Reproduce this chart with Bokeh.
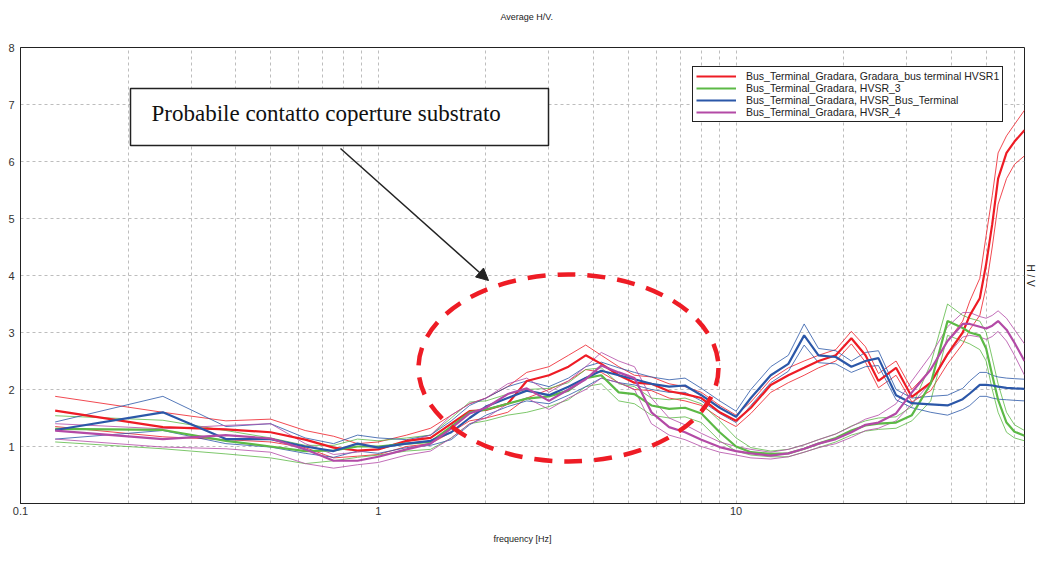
import math
from bokeh.plotting import figure
from bokeh.models import (FixedTicker, Legend, LegendItem, BoxAnnotation, Label,
                          Arrow, NormalHead, Title, LogAxis)
from bokeh.embed import file_html
from bokeh.resources import INLINE

# ---------------- data ----------------
freq = [0.125, 0.25, 0.375, 0.5, 0.625, 0.75, 0.875, 1.0, 1.2, 1.4,
        1.6, 1.8, 2.0, 2.3, 2.6, 3.0, 3.4, 3.8, 4.2, 4.7,
        5.2, 5.8, 6.5, 7.2, 8.0, 9.0, 10, 11, 12.5, 14,
        15.5, 17, 19, 21, 23, 25, 28, 31, 35, 39,
        43, 45, 48, 50, 52, 54, 57, 60, 64]

red_mean = [1.63, 1.34, 1.30, 1.25, 1.12, 0.98, 0.93, 0.95, 1.10, 1.15,
            1.40, 1.62, 1.64, 1.75, 2.15, 2.25, 2.40, 2.60, 2.45, 2.25,
            2.12, 2.10, 1.97, 1.92, 1.85, 1.60, 1.45, 1.68, 2.08, 2.25,
            2.38, 2.50, 2.60, 2.90, 2.60, 2.15, 2.38, 1.87, 2.12, 2.62,
            3.00, 3.30, 3.60, 4.20, 4.90, 5.70, 6.15, 6.35, 6.55]
red_hi = [1.88, 1.60, 1.45, 1.48, 1.28, 1.18, 1.05, 1.08, 1.20, 1.32,
          1.55, 1.75, 1.85, 2.05, 2.30, 2.40, 2.60, 2.78, 2.60, 2.40,
          2.25, 2.22, 2.10, 2.05, 1.95, 1.72, 1.55, 1.78, 2.18, 2.38,
          2.50, 2.60, 2.70, 3.02, 2.75, 2.28, 2.50, 2.00, 2.35, 2.85,
          3.20, 3.55, 3.95, 4.70, 5.40, 6.15, 6.45, 6.65, 6.90]
red_lo = [1.35, 1.17, 1.12, 1.08, 0.98, 0.80, 0.83, 0.86, 1.00, 1.05,
          1.25, 1.45, 1.50, 1.60, 1.85, 2.00, 2.15, 2.35, 2.30, 2.12,
          2.00, 1.98, 1.85, 1.80, 1.72, 1.50, 1.35, 1.58, 1.95, 2.12,
          2.25, 2.38, 2.50, 2.80, 2.48, 2.03, 2.25, 1.78, 1.98, 2.45,
          2.80, 3.05, 3.30, 3.80, 4.50, 5.25, 5.70, 5.95, 6.10]

green_mean = [1.31, 1.29, 1.10, 1.00, 0.92, 0.93, 1.00, 1.00, 1.05, 1.08,
              1.35, 1.60, 1.65, 1.75, 1.84, 1.88, 1.98, 2.20, 2.25, 1.95,
              1.92, 1.72, 1.66, 1.68, 1.58, 1.25, 1.00, 0.90, 0.87, 0.88,
              0.96, 1.05, 1.15, 1.28, 1.37, 1.40, 1.42, 1.55, 2.10, 3.20,
              3.08, 3.00, 2.95, 2.72, 2.25, 1.82, 1.42, 1.26, 1.19]
green_hi = [1.54, 1.46, 1.28, 1.15, 1.02, 1.02, 1.13, 1.10, 1.15, 1.20,
            1.50, 1.78, 1.80, 1.92, 2.00, 2.02, 2.12, 2.35, 2.38, 2.10,
            2.05, 1.85, 1.82, 1.85, 1.75, 1.45, 1.15, 0.98, 0.92, 0.95,
            1.03, 1.12, 1.22, 1.36, 1.45, 1.50, 1.52, 1.70, 2.45, 3.50,
            3.30, 3.25, 3.20, 3.00, 2.55, 2.10, 1.60, 1.38, 1.28]
green_lo = [1.08, 0.96, 0.87, 0.80, 0.70, 0.75, 0.81, 0.85, 0.92, 0.95,
            1.15, 1.40, 1.45, 1.55, 1.60, 1.70, 1.82, 2.05, 2.10, 1.80,
            1.75, 1.55, 1.50, 1.52, 1.42, 1.10, 0.92, 0.85, 0.82, 0.82,
            0.90, 0.98, 1.08, 1.20, 1.27, 1.30, 1.32, 1.45, 1.80, 2.95,
            2.85, 2.80, 2.70, 2.50, 2.00, 1.60, 1.25, 1.15, 1.10]

blue_mean = [1.29, 1.60, 1.13, 1.13, 1.00, 0.92, 1.05, 0.98, 1.05, 1.10,
             1.25, 1.50, 1.70, 1.85, 1.98, 1.90, 2.05, 2.20, 2.33, 2.25,
             2.18, 2.10, 2.05, 2.07, 1.90, 1.68, 1.52, 1.85, 2.25, 2.45,
             2.95, 2.60, 2.57, 2.40, 2.50, 2.55, 1.90, 1.76, 1.74, 1.72,
             1.83, 1.93, 2.08, 2.08, 2.07, 2.05, 2.03, 2.02, 2.01]
blue_hi = [1.43, 1.88, 1.35, 1.40, 1.15, 1.05, 1.20, 1.15, 1.12, 1.20,
           1.45, 1.72, 1.85, 2.05, 2.15, 2.05, 2.20, 2.40, 2.48, 2.38,
           2.30, 2.22, 2.17, 2.20, 2.02, 1.80, 1.62, 2.00, 2.40, 2.60,
           3.15, 2.72, 2.68, 2.50, 2.65, 2.68, 2.00, 1.85, 1.88, 1.90,
           2.02, 2.15, 2.30, 2.30, 2.25, 2.22, 2.20, 2.19, 2.18]
blue_lo = [1.13, 1.28, 1.05, 0.99, 0.88, 0.81, 0.92, 0.88, 0.98, 1.02,
           1.12, 1.38, 1.55, 1.70, 1.80, 1.75, 1.90, 2.05, 2.20, 2.12,
           2.08, 2.00, 1.95, 1.95, 1.80, 1.58, 1.42, 1.72, 2.12, 2.32,
           2.78, 2.47, 2.45, 2.30, 2.40, 2.42, 1.82, 1.68, 1.60, 1.55,
           1.65, 1.72, 1.88, 1.88, 1.85, 1.83, 1.82, 1.81, 1.80]

mag_mean = [1.28, 1.13, 1.20, 1.14, 0.95, 0.75, 0.75, 0.82, 0.95, 1.05,
            1.32, 1.58, 1.68, 1.92, 2.02, 1.80, 2.00, 2.18, 2.42, 2.30,
            2.20, 1.60, 1.34, 1.25, 1.12, 0.99, 0.92, 0.88, 0.84, 0.88,
            0.96, 1.05, 1.13, 1.25, 1.38, 1.42, 1.58, 1.95, 2.35, 2.85,
            3.15, 3.15, 3.10, 3.07, 3.12, 3.20, 3.05, 2.82, 2.50]
mag_hi = [1.40, 1.31, 1.37, 1.40, 1.05, 0.86, 0.90, 0.95, 1.08, 1.20,
          1.55, 1.75, 1.85, 2.10, 2.20, 1.95, 2.15, 2.40, 2.65, 2.50,
          2.40, 1.85, 1.50, 1.38, 1.23, 1.08, 1.00, 0.95, 0.90, 0.95,
          1.03, 1.12, 1.22, 1.35, 1.48, 1.55, 1.75, 2.15, 2.60, 3.10,
          3.35, 3.35, 3.28, 3.25, 3.30, 3.38, 3.25, 3.05, 2.80]
mag_lo = [1.13, 0.99, 0.96, 0.90, 0.70, 0.62, 0.68, 0.72, 0.85, 0.92,
          1.15, 1.40, 1.50, 1.75, 1.85, 1.65, 1.85, 2.00, 2.20, 2.12,
          2.00, 1.40, 1.20, 1.12, 1.00, 0.90, 0.85, 0.80, 0.78, 0.82,
          0.90, 0.98, 1.05, 1.16, 1.28, 1.32, 1.45, 1.75, 2.12, 2.60,
          2.92, 2.95, 2.92, 2.88, 2.93, 3.02, 2.85, 2.60, 2.25]

series_names = ["Bus_Terminal_Gradara, Gradara_bus terminal HVSR1",
                "Bus_Terminal_Gradara, HVSR_3",
                "Bus_Terminal_Gradara, HVSR_Bus_Terminal",
                "Bus_Terminal_Gradara, HVSR_4"]
series_colors = ["#ee1c25", "#5cb946", "#2b57a8", "#b34aa6"]

x_major = [0.1, 1, 10]
x_major_labels = ["0.1", "1", "10"]
x_grid = [0.2, 0.3, 0.4, 0.5, 0.6, 0.7, 0.8, 0.9, 1, 2, 3, 4, 5, 6, 7, 8, 9,
          10, 20, 30, 40, 50, 60]
y_ticks = [1, 2, 3, 4, 5, 6, 7, 8]

title_text = "Average H/V."
title_at = 2.6          # frequency above which the centred title sits
xlabel_text = "frequency [Hz]"
ylabel_text = "H / V"
note_text = "Probabile contatto coperture substrato"

# ---------------- figure ----------------
W, H = 1038, 547
BL, BR, BT, BB = 20, 14, 47, 44
X0, X1, Y0, Y1 = 0.1, 64.0, 0.0, 8.0

p = figure(width=W, height=H, x_axis_type="log",
           x_range=(X0, X1), y_range=(Y0, Y1),
           output_backend="svg", toolbar_location=None,
           min_border_left=BL, min_border_right=BR,
           min_border_top=BT, min_border_bottom=BB,
           background_fill_color="white", border_fill_color="white")
p.title.visible = False

xa = p.below[0]
ya = p.left[0]

# pixel -> data helpers for annotation placement
FW, FH = W - BL - BR, H - BT - BB
def dx(px):
    lx0, lx1 = math.log10(X0), math.log10(X1)
    return 10 ** (lx0 + (px - BL) / FW * (lx1 - lx0))
def dy(py):
    return Y0 + (BT + FH - py) / FH * (Y1 - Y0)

# title drawn as the single label of an invisible top axis
top_axis = LogAxis(ticker=FixedTicker(ticks=[title_at]),
                   major_label_overrides={title_at: title_text},
                   axis_line_color=None,
                   major_tick_line_color=None, minor_tick_line_color=None,
                   major_tick_out=0, major_tick_in=0,
                   minor_tick_out=0, minor_tick_in=0,
                   major_label_standoff=26,
                   major_label_text_font="Liberation Sans",
                   major_label_text_font_size="9px",
                   major_label_text_color="#222222")
p.add_layout(top_axis, "above")

p.outline_line_color = "#222222"
p.outline_line_width = 1

# axes
xa.ticker = FixedTicker(ticks=x_major)
xa.major_label_overrides = {t: l for t, l in zip(x_major, x_major_labels)}
ya.ticker = FixedTicker(ticks=y_ticks)
for ax in (xa, ya):
    ax.axis_line_color = "#222222"
    ax.major_tick_line_color = None
    ax.minor_tick_line_color = None
    ax.major_tick_out = 0
    ax.major_tick_in = 0
    ax.minor_tick_out = 0
    ax.minor_tick_in = 0
    ax.major_label_text_font = "Liberation Sans"
    ax.major_label_text_font_size = "11px"
    ax.major_label_text_color = "#333333"
xa.major_label_standoff = 3
ya.major_label_standoff = 6
xa.axis_label = xlabel_text
xa.axis_label_text_font = "Liberation Sans"
xa.axis_label_text_font_size = "9px"
xa.axis_label_text_font_style = "normal"
xa.axis_label_text_color = "#222222"
xa.axis_label_standoff = 16

p.add_layout(Title(text=ylabel_text, align="center", text_font="Liberation Sans",
                   text_font_size="10px", text_font_style="normal",
                   text_color="#222222", standoff=0), "right")

# grid
p.xgrid.ticker = FixedTicker(ticks=x_grid)
p.ygrid.ticker = FixedTicker(ticks=y_ticks)
for g in (p.xgrid[0], p.ygrid[0]):
    g.grid_line_color = "#bdbdbd"
    g.grid_line_dash = "3 3"
    g.grid_line_width = 1

# ---------------- lines ----------------
all_series = [(red_mean, red_hi, red_lo),
              (green_mean, green_hi, green_lo),
              (blue_mean, blue_hi, blue_lo),
              (mag_mean, mag_hi, mag_lo)]

for (m, hi, lo), c in zip(all_series, series_colors):
    p.line(freq, hi, line_color=c, line_width=1, line_alpha=0.8)
    p.line(freq, lo, line_color=c, line_width=1, line_alpha=0.8)

legend_items = []
for (m, hi, lo), c, name in zip(all_series, series_colors, series_names):
    r = p.line(freq, m, line_color=c, line_width=2.2)
    legend_items.append(LegendItem(label=name, renderers=[r]))

legend = Legend(items=legend_items, location=(672, 381),
                border_line_color="#222222", border_line_width=1,
                border_line_alpha=1,
                background_fill_color="white", background_fill_alpha=1,
                label_text_font="Liberation Sans", label_text_font_size="10.5px",
                label_text_color="#222222",
                glyph_width=40, glyph_height=12, label_height=12,
                spacing=0, padding=3, margin=0, label_standoff=10)
p.add_layout(legend, "center")

# ---------------- annotations ----------------
p.ellipse(x=[dx(568)], y=[dy(367.5)], width=300, height=187,
          width_units="screen", height_units="screen",
          fill_alpha=0, line_color="#ee1c25", line_width=4.5,
          line_dash="18 12")

p.add_layout(BoxAnnotation(left=dx(130), right=dx(548), bottom=dy(145), top=dy(88),
                           fill_color="white", fill_alpha=1,
                           line_color="#222222", line_alpha=1, line_width=1.5))
p.add_layout(Label(x=dx(151), y=dy(113), text=note_text,
                   text_font="Liberation Serif", text_font_size="23px",
                   text_baseline="middle", text_color="#111111"))
p.add_layout(Arrow(x_start=dx(340), y_start=dy(148), x_end=dx(488), y_end=dy(280),
                   line_color="#222222", line_width=1.5,
                   end=NormalHead(size=12, fill_color="#222222",
                                  line_color="#222222")))

open("out.html", "w").write(file_html(p, INLINE))
